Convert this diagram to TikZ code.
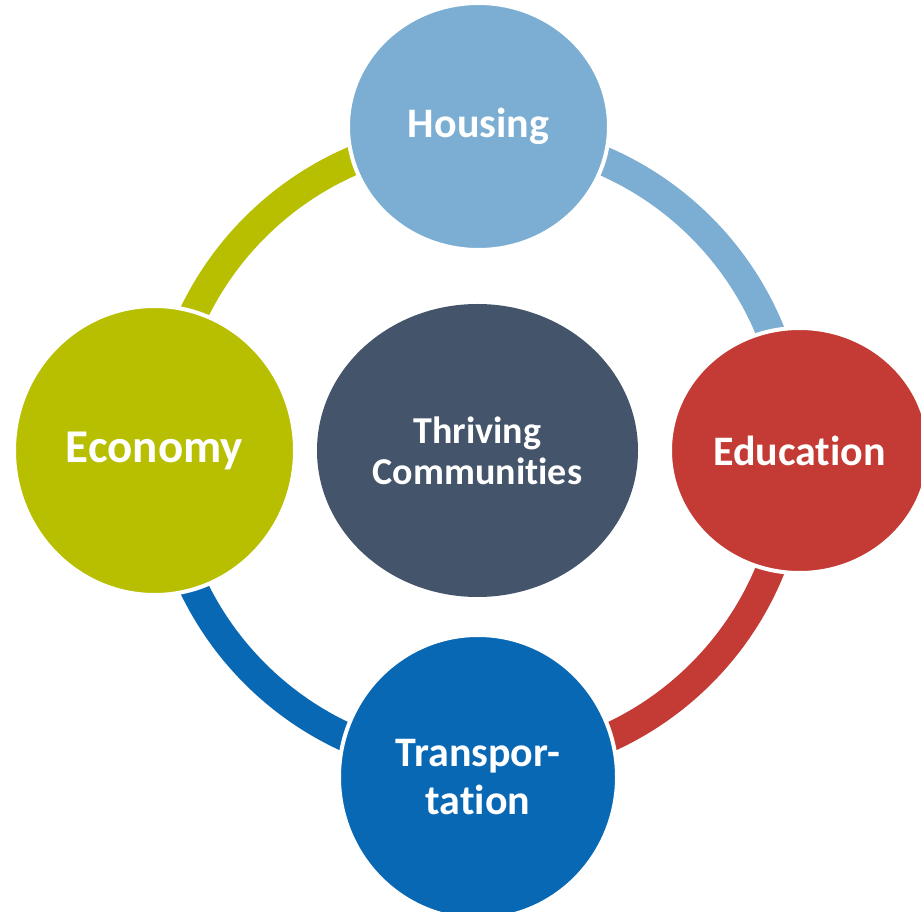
\documentclass[tikz,border=0pt]{standalone}
\usepackage{fontspec}
\setmainfont{Carlito}[Ligatures=NoCommon]
\usetikzlibrary{shapes.geometric}
\definecolor{hcol}{RGB}{124,174,211}
\definecolor{ecol}{RGB}{195,59,52}
\definecolor{gcol}{RGB}{183,191,0}
\definecolor{tcol}{RGB}{8,104,180}
\definecolor{ccol}{RGB}{68,84,106}
\tikzset{
  ringarc/.style={line width=29pt, line cap=butt},
  bubble/.style={ellipse, inner sep=0pt, draw=white, line width=4pt,
    text=white, align=center, font=\bfseries\fontsize{42}{48}\selectfont},
}
\begin{document}
\begin{tikzpicture}[x=1pt,y=1pt]
\useasboundingbox (0,0) rectangle (921,911);
\clip (0,0) rectangle (921,911);
\fill[white] (0,0) rectangle (921,911);
\coordinate (o) at (478,460.5);
% ring
\draw[ringarc, hcol] ([shift={(90:315.5)}]o) arc[start angle=90, end angle=0, radius=315.5];
\draw[ringarc, ecol] ([shift={(0:315.5)}]o) arc[start angle=0, end angle=-90, radius=315.5];
\draw[ringarc, tcol] ([shift={(-90:315.5)}]o) arc[start angle=-90, end angle=-180, radius=315.5];
\draw[ringarc, gcol] ([shift={(180:315.5)}]o) arc[start angle=180, end angle=90, radius=315.5];
% circles
\node[bubble, fill=hcol, minimum width=261pt, minimum height=247pt] (housing) at (478.5,784.5) {Housing};
\node[bubble, fill=ecol, minimum width=259pt, minimum height=245pt] (education) at (799.5,460.5) {Education};
\node[bubble, fill=gcol, minimum width=281pt, minimum height=289pt, font=\bfseries\fontsize{47}{50}\selectfont] (economy) at (154.5,460.5) {\raisebox{-3pt}{Economy}};
\node[bubble, fill=tcol, minimum width=278pt, minimum height=284pt] (transport) at (478,134) {Transpor-\\tation};
\node[bubble, fill=ccol, draw=none, minimum width=321pt, minimum height=293pt, font=\bfseries\fontsize{38}{41}\selectfont] (center) at (477.5,460.5) {Thriving\\Communities};
\end{tikzpicture}
\end{document}
